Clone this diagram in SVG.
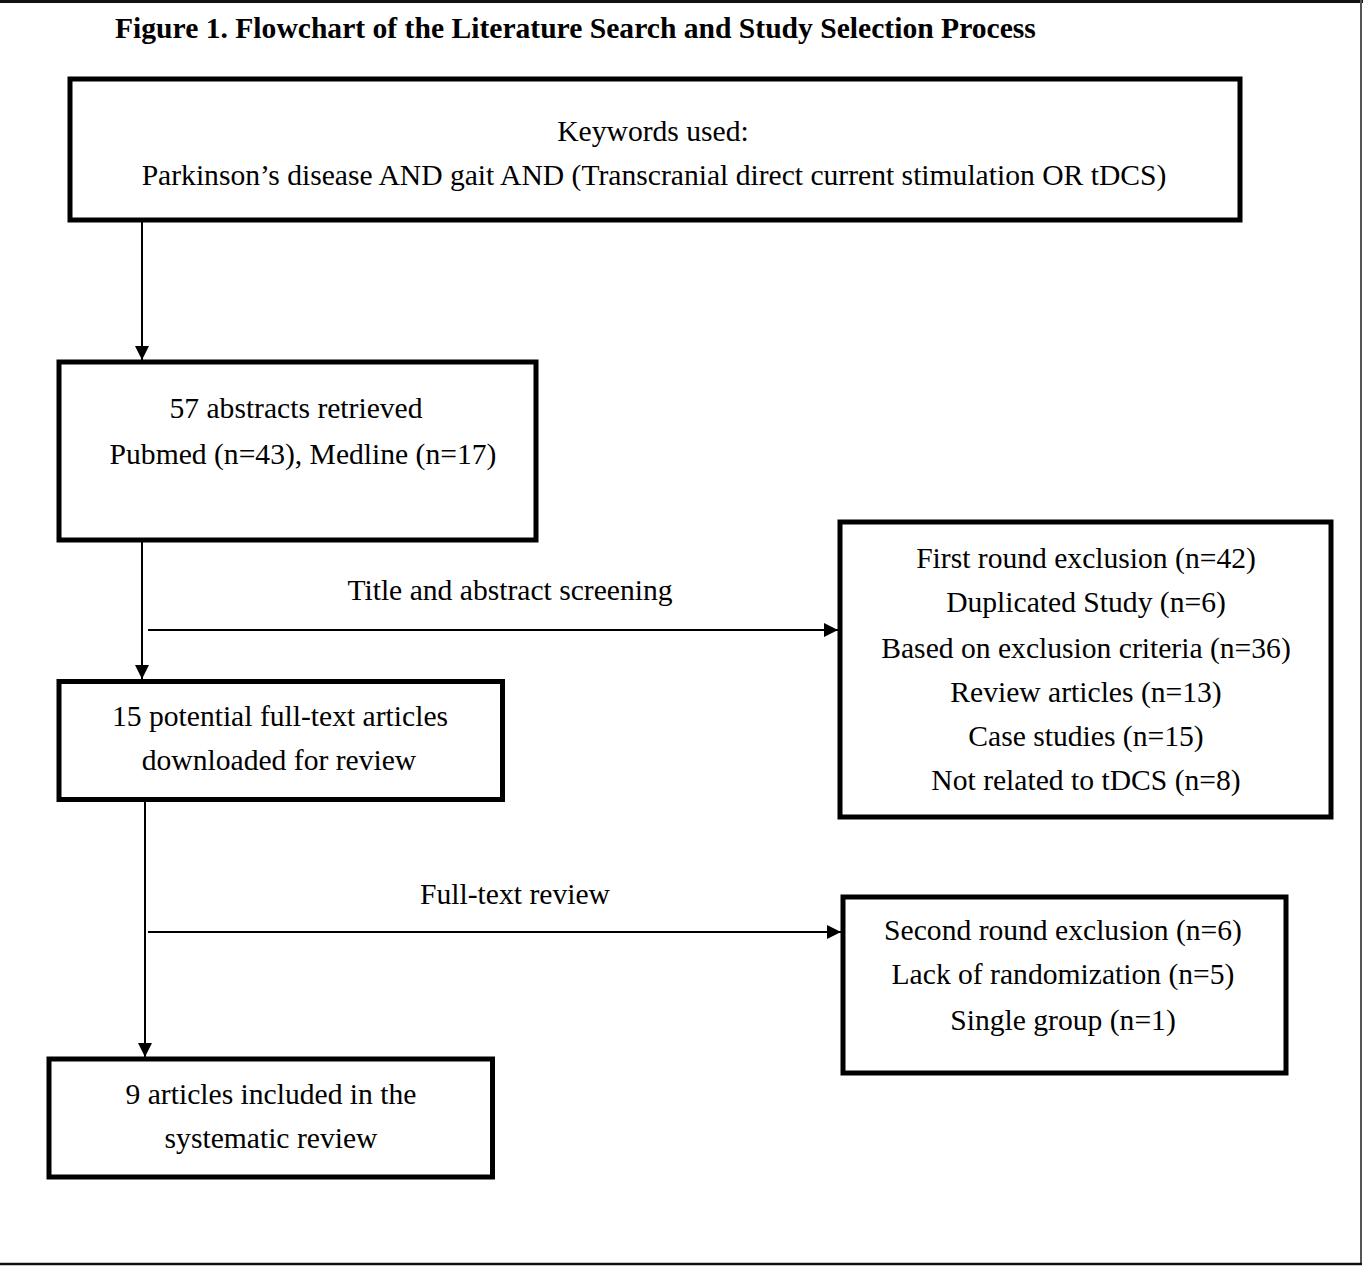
<svg xmlns="http://www.w3.org/2000/svg" width="1363" height="1267" viewBox="0 0 1363 1267">
<defs>
<style>
.box{fill:none;stroke:#000;stroke-width:5}
.t{font-family:"Liberation Serif","Times New Roman",serif;font-size:29.6px;fill:#000;text-anchor:middle}
.title{font-family:"Liberation Serif","Times New Roman",serif;font-size:29.6px;font-weight:bold;fill:#000}
.c{stroke:#000;stroke-width:2;fill:none;marker-end:url(#ah)}
</style>
<marker id="ah" viewBox="0 0 14 14" refX="14" refY="7" markerWidth="14" markerHeight="14" markerUnits="userSpaceOnUse" orient="auto">
<path d="M0,0 L14,7 L0,14 Z" fill="#000"/>
</marker>
</defs>
<rect width="1363" height="1267" fill="#fff"/>
<g id="frame">
<line x1="0" y1="1.5" x2="1363" y2="1.5" stroke="#111" stroke-width="3"/>
<line x1="1361" y1="0" x2="1361" y2="1265" stroke="#555" stroke-width="2"/>
<line x1="0" y1="1264" x2="1362" y2="1264" stroke="#111" stroke-width="2.5"/>
</g>
<text class="title" x="115" y="38">Figure 1. Flowchart of the Literature Search and Study Selection Process</text>
<g id="connectors">
<line class="c" x1="142" y1="222" x2="142" y2="360"/>
<line class="c" x1="142" y1="542" x2="142" y2="679"/>
<line class="c" x1="145" y1="801" x2="145" y2="1057"/>
<line class="c" x1="148" y1="630" x2="838" y2="630"/>
<line class="c" x1="148" y1="932" x2="841" y2="932"/>
<text class="t" x="510" y="600">Title and abstract screening</text>
<text class="t" x="515" y="904">Full-text review</text>
</g>
<g id="keywords">
<rect class="box" x="70" y="79" width="1170" height="141"/>
<text class="t" x="653" y="141">Keywords used:</text>
<text class="t" x="654" y="185">Parkinson’s disease AND gait AND (Transcranial direct current stimulation OR tDCS)</text>
</g>
<g id="abstracts">
<rect class="box" x="59" y="362" width="477" height="178"/>
<text class="t" x="296" y="418">57 abstracts retrieved</text>
<text class="t" x="303" y="464">Pubmed (n=43), Medline (n=17)</text>
</g>
<g id="fulltext">
<rect class="box" x="59" y="681.5" width="443.5" height="118"/>
<text class="t" x="280" y="726">15 potential full-text articles</text>
<text class="t" x="279" y="770">downloaded for review</text>
</g>
<g id="included">
<rect class="box" x="49" y="1059" width="443.5" height="118"/>
<text class="t" x="271" y="1104">9 articles included in the</text>
<text class="t" x="271" y="1148">systematic review</text>
</g>
<g id="exclusion1">
<rect class="box" x="840" y="522" width="491" height="295"/>
<text class="t" x="1086" y="568">First round exclusion (n=42)</text>
<text class="t" x="1086" y="612">Duplicated Study (n=6)</text>
<text class="t" x="1086" y="658">Based on exclusion criteria (n=36)</text>
<text class="t" x="1086" y="702">Review articles (n=13)</text>
<text class="t" x="1086" y="746">Case studies (n=15)</text>
<text class="t" x="1086" y="790">Not related to tDCS (n=8)</text>
</g>
<g id="exclusion2">
<rect class="box" x="843" y="897" width="443" height="176"/>
<text class="t" x="1063" y="940">Second round exclusion (n=6)</text>
<text class="t" x="1063" y="984">Lack of randomization (n=5)</text>
<text class="t" x="1063" y="1030">Single group (n=1)</text>
</g>
</svg>
